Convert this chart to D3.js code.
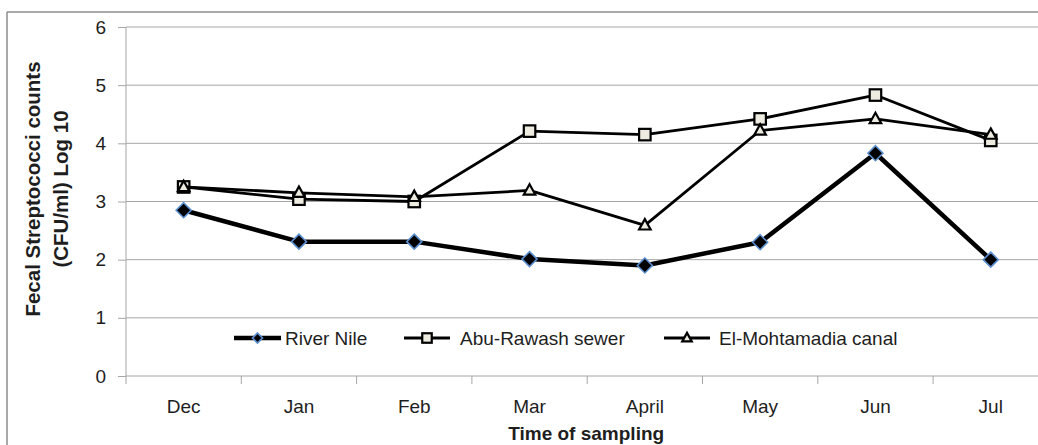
<!DOCTYPE html>
<html>
<head>
<meta charset="utf-8">
<script src="https://cdn.jsdelivr.net/npm/d3@7"></script>
<style>
  html, body { margin: 0; padding: 0; background: #fff; }
  svg { display: block; }
  text { font-family: "Liberation Sans", Arial, sans-serif; fill: #1e1e1e; }
</style>
</head>
<body>
<svg id="chart" width="1038" height="445"></svg>
<script>
const categories = ["Dec", "Jan", "Feb", "Mar", "April", "May", "Jun", "Jul"];
const riverNile = [2.85, 2.31, 2.31, 2.01, 1.90, 2.30, 3.83, 2.00];
const abuRawash = [3.25, 3.04, 3.00, 4.21, 4.15, 4.42, 4.83, 4.05];
const elMohtamadia = [3.25, 3.15, 3.08, 3.19, 2.59, 4.22, 4.42, 4.15];
const seriesNames = ["River Nile", "Abu-Rawash sewer", "El-Mohtamadia canal"];
const yTicks = [0, 1, 2, 3, 4, 5, 6];
const yTitle = ["Fecal Streptococci counts", "(CFU/ml) Log 10"];
const xTitle = "Time of sampling";

(function () {
const svg = d3.select("#chart");
const pLeft = 126, pTop = 27, pBottom = 376, step = 115.3;
const pRight = pLeft + step * categories.length;

const x = d3.scaleBand().domain(categories).range([pLeft, pRight]).padding(0);
const y = d3.scaleLinear().domain([0, 6]).range([pBottom, pTop]);
const grid = "#a6a6a6";

// outer border
svg.append("line").attr("x1", 7).attr("x2", 1038).attr("y1", 12).attr("y2", 12)
  .attr("stroke", "#8c8c8c").attr("stroke-width", 1.5);
svg.append("line").attr("x1", 7).attr("x2", 7).attr("y1", 12).attr("y2", 445)
  .attr("stroke", "#8c8c8c").attr("stroke-width", 1.5);

// gridlines
svg.append("g").selectAll("line").data(yTicks.filter(d => d > 0)).join("line")
  .attr("x1", pLeft).attr("x2", pRight)
  .attr("y1", d => y(d)).attr("y2", d => y(d))
  .attr("stroke", grid).attr("stroke-width", 1);

// y axis
const yAxis = svg.append("g").attr("transform", `translate(${pLeft},0)`)
  .call(d3.axisLeft(y).tickValues(yTicks).tickSize(8).tickPadding(12).tickFormat(d3.format("d")));
yAxis.select(".domain").remove();
yAxis.selectAll(".tick line").attr("stroke", grid);
yAxis.selectAll(".tick text").style("font-size", "19px").attr("fill", "#1e1e1e");
svg.append("line").attr("x1", pLeft).attr("x2", pLeft).attr("y1", pTop).attr("y2", pBottom + 8)
  .attr("stroke", grid);

// x axis
const xAxis = svg.append("g").attr("transform", `translate(0,${pBottom})`)
  .call(d3.axisBottom(x).tickSize(0).tickPadding(24));
xAxis.select(".domain").remove();
xAxis.selectAll(".tick text").style("font-size", "19px").attr("fill", "#1e1e1e");
svg.append("line").attr("x1", pLeft).attr("x2", pRight).attr("y1", pBottom).attr("y2", pBottom)
  .attr("stroke", grid);
svg.append("g").selectAll("line").data(categories.slice(1)).join("line")
  .attr("x1", d => x(d)).attr("x2", d => x(d))
  .attr("y1", pBottom).attr("y2", pBottom + 8).attr("stroke", grid);

// titles
const yt = svg.append("text").attr("transform", "translate(40,189) rotate(-90)")
  .attr("text-anchor", "middle").style("font-size", "20.5px").style("font-weight", "bold");
yt.append("tspan").attr("x", 0).attr("y", 0).text(yTitle[0]);
yt.append("tspan").attr("x", 0).attr("y", 28).text(yTitle[1]);
svg.append("text").attr("x", (pLeft + pRight) / 2 - 1).attr("y", 440)
  .attr("text-anchor", "middle").style("font-size", "19px").style("font-weight", "bold")
  .text(xTitle);

// series
const beige = "#eeece1";
const series = [
  { name: seriesNames[0], values: riverNile, width: 4.5, marker: "diamond" },
  { name: seriesNames[1], values: abuRawash, width: 2.8, marker: "square" },
  { name: seriesNames[2], values: elMohtamadia, width: 2.8, marker: "triangle" }
];
const cx = d => x(d) + x.bandwidth() / 2;
const line = d3.line().x(d => cx(d.c)).y(d => y(d.v));

function drawMarker(g, kind, px, py, s) {
  if (kind === "diamond") {
    const r = s / 2;
    g.append("path").attr("d", `M${px},${py - r}L${px + r},${py}L${px},${py + r}L${px - r},${py}Z`)
      .attr("fill", "#000").attr("stroke", "#5b8fd0").attr("stroke-width", 1.6);
  } else if (kind === "square") {
    g.append("rect").attr("x", px - s / 2).attr("y", py - s / 2).attr("width", s).attr("height", s)
      .attr("fill", beige).attr("stroke", "#000").attr("stroke-width", 2.2);
  } else {
    const h = s * 0.9;
    g.append("path").attr("d", `M${px},${py - h * 0.6}L${px + s / 2},${py + h * 0.4}L${px - s / 2},${py + h * 0.4}Z`)
      .attr("fill", beige).attr("stroke", "#000").attr("stroke-width", 2.2);
  }
}

series.forEach(s => {
  const pts = s.values.map((v, i) => ({ c: categories[i], v }));
  const g = svg.append("g");
  g.append("path").datum(pts).attr("d", line).attr("fill", "none")
    .attr("stroke", "#000").attr("stroke-width", s.width).attr("stroke-linejoin", "round");
  pts.forEach(p => drawMarker(g, s.marker, cx(p.c), y(p.v), s.marker === "diamond" ? 15 : 11.5));
});

// legend
const legendItems = [
  { s: series[0], x0: 234, x1: 281, tx: 285 },
  { s: series[1], x0: 404, x1: 450, tx: 460 },
  { s: series[2], x0: 664, x1: 710, tx: 719 }
];
const ly = 338;
legendItems.forEach(it => {
  const g = svg.append("g");
  g.append("line").attr("x1", it.x0).attr("x2", it.x1).attr("y1", ly).attr("y2", ly)
    .attr("stroke", "#000").attr("stroke-width", it.s.marker === "diamond" ? 4.5 : 3.2);
  drawMarker(g, it.s.marker, (it.x0 + it.x1) / 2, ly, it.s.marker === "diamond" ? 10 : 9.5);
  g.append("text").attr("x", it.tx).attr("y", ly + 7).style("font-size", "19px").text(it.s.name);
});
})();
</script>
</body>
</html>
